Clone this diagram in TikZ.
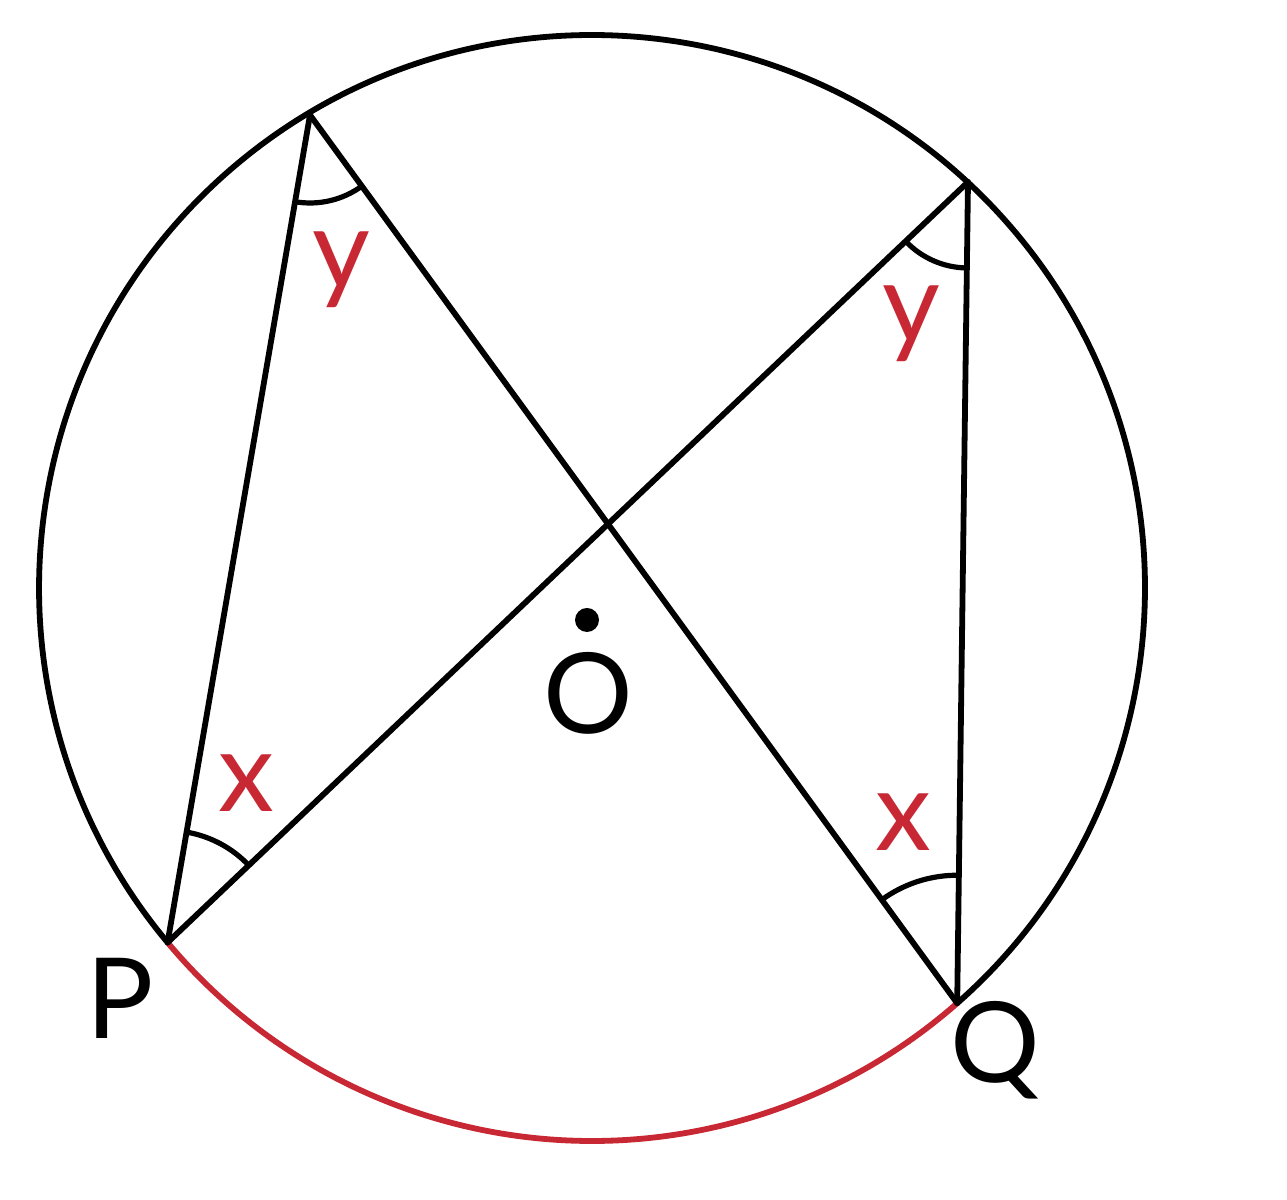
\documentclass[tikz,border=0pt]{standalone}
\usepackage{fontspec}
\setmainfont{Lato}
\usetikzlibrary{angles,calc}
\definecolor{arcred}{RGB}{200,40,52}
\begin{document}
\begin{tikzpicture}[x=0.5pt,y=0.5pt,
  stroke/.style={line width=2.9pt,line cap=round,line join=round},
  anglemark/.style={draw,line width=2.6pt},
  lbl/.style={font=\fontsize{56}{62}\selectfont,inner sep=0pt},
  redlbl/.style={lbl,text=arcred}]
\useasboundingbox (0,0) rectangle (1287,1200);
\coordinate (C) at (592,612);
\coordinate (A) at (310,1085);
\coordinate (B) at (968,1018);
\coordinate (P) at ($(C)+(219.87:553)$);
\coordinate (Q) at ($(C)+(311.33:553)$);
% circle
\draw[stroke] (Q) arc[start angle=311.33,end angle=579.87,radius=553];
\draw[stroke,arcred] (P) arc[start angle=219.87,end angle=311.33,radius=553];
% chords
\draw[stroke] (A) -- (P);
\draw[stroke] (A) -- (Q);
\draw[stroke] (B) -- (P);
\draw[stroke] (B) -- (Q);
% angle marks
\pic[anglemark,angle radius=44pt] {angle=P--A--Q};
\pic[anglemark,angle radius=43pt] {angle=P--B--Q};
\pic[anglemark,angle radius=56pt] {angle=B--P--A};
\pic[anglemark,angle radius=64pt] {angle=B--Q--A};
% centre
\fill (587,580) circle[radius=12];
\node[lbl] (Olbl) at (588,507) {O};
\node[lbl] (Plbl) at (120,202) {P};
\node[lbl] (Qlbl) at (995,150) {Q};
\node[redlbl] (y1) at (341,930) {y};
\node[redlbl] (y2) at (911,876) {y};
\node[redlbl] (x1) at (246,417) {x};
\node[redlbl] (x2) at (903,378) {x};
\end{tikzpicture}
\end{document}
